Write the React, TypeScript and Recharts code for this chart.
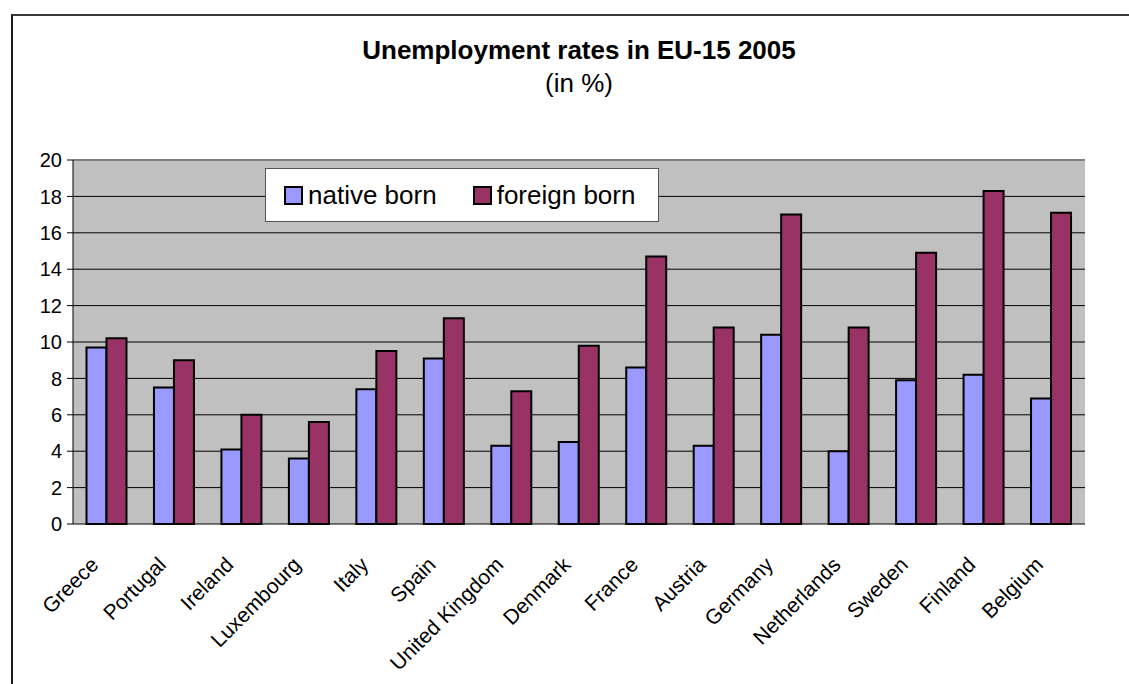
import { BarChart, Bar, XAxis, YAxis, CartesianGrid, ReferenceLine } from 'recharts';

const COUNTRIES = [
  'Greece', 'Portugal', 'Ireland', 'Luxembourg', 'Italy', 'Spain', 'United Kingdom',
  'Denmark', 'France', 'Austria', 'Germany', 'Netherlands', 'Sweden', 'Finland', 'Belgium',
];
const NATIVE_BORN = [9.7, 7.5, 4.1, 3.6, 7.4, 9.1, 4.3, 4.5, 8.6, 4.3, 10.4, 4.0, 7.9, 8.2, 6.9];
const FOREIGN_BORN = [10.2, 9.0, 6.0, 5.6, 9.5, 11.3, 7.3, 9.8, 14.7, 10.8, 17.0, 10.8, 14.9, 18.3, 17.1];
const Y_TICKS = [0, 2, 4, 6, 8, 10, 12, 14, 16, 18, 20];

const SERIES = [
  { key: 'native', name: 'native born', color: '#9999FF' },
  { key: 'foreign', name: 'foreign born', color: '#993366' },
];

const FONT = '"Liberation Sans", Arial, sans-serif';

// category boundaries, Excel puts the x ticks between the groups
const EDGE_TICKS = [...COUNTRIES.map((_, i) => i), COUNTRIES.length];

const data = COUNTRIES.map((country, i) => ({
  country,
  native: NATIVE_BORN[i],
  foreign: FOREIGN_BORN[i],
}));

const CountryTick = ({ x, y, payload }: any) => {
  const ax = x - 7;
  const ay = y + 42;
  return (
    <text
      x={ax}
      y={ay}
      textAnchor="end"
      transform={`rotate(-45 ${ax} ${ay})`}
      fontSize={21}
      fontFamily={FONT}
      fill="#000"
    >
      {payload.value}
    </text>
  );
};

const App = () => {
  return (
    <div
      style={{
        position: 'absolute',
        left: 0,
        top: 0,
        width: 1129,
        height: 684,
        overflow: 'hidden',
        background: '#fff',
        fontFamily: FONT,
      }}
    >
      <div
        style={{
          position: 'absolute',
          left: 11,
          top: 14,
          width: 1300,
          height: 900,
          borderTop: '2px solid #3a3a3a',
          borderLeft: '2px solid #1a1a1a',
        }}
      />
      <div style={{ position: 'absolute', left: 0, width: 1158, top: 35, textAlign: 'center' }}>
        <div style={{ fontSize: 26, fontWeight: 'bold', lineHeight: '30px' }}>
          Unemployment rates in EU-15 2005
        </div>
        <div style={{ fontSize: 26, lineHeight: '36px' }}>(in %)</div>
      </div>

      <BarChart
        width={1129}
        height={684}
        data={data}
        margin={{ top: 160, right: 44, left: 13, bottom: 40 }}
        barCategoryGap="20%"
        barGap={0}
        style={{ position: 'absolute', left: 0, top: 0 }}
      >
        <CartesianGrid fill="#c0c0c0" stroke="#000" strokeOpacity={1} vertical={false} />
        <XAxis
          xAxisId="edge"
          type="number"
          domain={[0, COUNTRIES.length]}
          ticks={EDGE_TICKS}
          height={0}
          tick={false}
          tickSize={6}
          axisLine={{ stroke: '#000' }}
          tickLine={{ stroke: '#000' }}
        />
        <XAxis
          dataKey="country"
          interval={0}
          height={120}
          tickSize={0}
          tickMargin={0}
          axisLine={false}
          tickLine={false}
          tick={<CountryTick />}
        />
        <YAxis
          domain={[0, 20]}
          ticks={Y_TICKS}
          width={60}
          tickSize={6}
          tickMargin={5}
          axisLine={{ stroke: '#000' }}
          tickLine={{ stroke: '#000' }}
          tick={{ fill: '#000', fontSize: 20, fontFamily: FONT }}
        />
        <ReferenceLine y={20} stroke="#808080" strokeWidth={2} />
        <ReferenceLine xAxisId="edge" x={COUNTRIES.length} stroke="#808080" strokeWidth={2} />
        {SERIES.map((s) => (
          <Bar
            key={s.key}
            dataKey={s.key}
            name={s.name}
            fill={s.color}
            stroke="#000"
            strokeWidth={2}
            isAnimationActive={false}
          />
        ))}
      </BarChart>

      <div
        style={{
          position: 'absolute',
          left: 265,
          top: 168,
          width: 394,
          height: 54,
          background: '#fff',
          border: '1px solid #555',
          display: 'flex',
          alignItems: 'center',
          paddingLeft: 18,
          boxSizing: 'border-box',
          gap: 36,
        }}
      >
        {SERIES.map((s) => (
          <div key={s.key} style={{ display: 'flex', alignItems: 'center' }}>
            <span
              style={{
                display: 'inline-block',
                width: 15,
                height: 15,
                background: s.color,
                border: '2px solid #000',
                marginRight: 5,
              }}
            />
            <span style={{ fontSize: 26, lineHeight: '30px' }}>{s.name}</span>
          </div>
        ))}
      </div>
    </div>
  );
};

export default App;
